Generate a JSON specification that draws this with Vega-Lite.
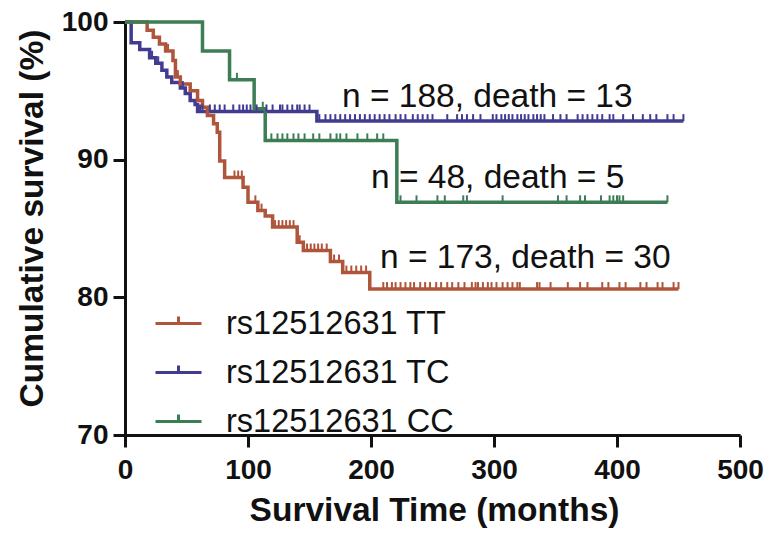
{
  "$schema": "https://vega.github.io/schema/vega-lite/v6.json",
  "width": 615,
  "height": 413,
  "autosize": {"type": "none"},
  "padding": {"left": 125, "top": 22, "right": 28, "bottom": 98},
  "background": "white",
  "config": {"view": {"stroke": null}, "font": "Liberation Sans"},
  "datasets": {
    "curve": [
      {"g": "TC", "t": 0, "s": 100}, {"g": "TC", "t": 5, "s": 98.5}, {"g": "TC", "t": 12, "s": 98.0}, {"g": "TC", "t": 20, "s": 97.4}, {"g": "TC", "t": 25, "s": 97.0}, {"g": "TC", "t": 30, "s": 96.5}, {"g": "TC", "t": 34, "s": 96.0}, {"g": "TC", "t": 38, "s": 95.6}, {"g": "TC", "t": 45, "s": 95.2}, {"g": "TC", "t": 49, "s": 94.8}, {"g": "TC", "t": 53, "s": 94.3}, {"g": "TC", "t": 57, "s": 94.0}, {"g": "TC", "t": 59, "s": 93.5}, {"g": "TC", "t": 156, "s": 92.8}, {"g": "TC", "t": 454, "s": 92.8},
      {"g": "TT", "t": 0, "s": 100}, {"g": "TT", "t": 18, "s": 99.4}, {"g": "TT", "t": 23, "s": 98.9}, {"g": "TT", "t": 28, "s": 98.4}, {"g": "TT", "t": 33, "s": 97.9}, {"g": "TT", "t": 39, "s": 97.2}, {"g": "TT", "t": 41, "s": 96.0}, {"g": "TT", "t": 45, "s": 95.5}, {"g": "TT", "t": 53, "s": 95.0}, {"g": "TT", "t": 59, "s": 94.3}, {"g": "TT", "t": 63, "s": 93.8}, {"g": "TT", "t": 67, "s": 93.2}, {"g": "TT", "t": 72, "s": 92.6}, {"g": "TT", "t": 75, "s": 92.0}, {"g": "TT", "t": 77, "s": 89.9}, {"g": "TT", "t": 81, "s": 88.7}, {"g": "TT", "t": 96, "s": 88.0}, {"g": "TT", "t": 100, "s": 86.9}, {"g": "TT", "t": 108, "s": 86.3}, {"g": "TT", "t": 114, "s": 85.9}, {"g": "TT", "t": 120, "s": 85.1}, {"g": "TT", "t": 140, "s": 84.0}, {"g": "TT", "t": 145, "s": 83.4}, {"g": "TT", "t": 167, "s": 82.6}, {"g": "TT", "t": 177, "s": 81.8}, {"g": "TT", "t": 199, "s": 80.6}, {"g": "TT", "t": 450, "s": 80.6},
      {"g": "CC", "t": 0, "s": 100}, {"g": "CC", "t": 63, "s": 97.9}, {"g": "CC", "t": 85, "s": 95.8}, {"g": "CC", "t": 105, "s": 93.7}, {"g": "CC", "t": 114, "s": 91.4}, {"g": "CC", "t": 221, "s": 86.9}, {"g": "CC", "t": 441, "s": 86.9}
    ],
    "censor": [
      {"g": "TC", "t": 22, "s": 97.4}, {"g": "TC", "t": 27, "s": 97.0}, {"g": "TC", "t": 47, "s": 95.2},
      {"g": "TC", "t": 61, "s": 93.5}, {"g": "TC", "t": 63, "s": 93.5}, {"g": "TC", "t": 69, "s": 93.5}, {"g": "TC", "t": 73, "s": 93.5}, {"g": "TC", "t": 77, "s": 93.5}, {"g": "TC", "t": 81, "s": 93.5}, {"g": "TC", "t": 88, "s": 93.5}, {"g": "TC", "t": 93, "s": 93.5}, {"g": "TC", "t": 96, "s": 93.5}, {"g": "TC", "t": 99, "s": 93.5}, {"g": "TC", "t": 102, "s": 93.5}, {"g": "TC", "t": 107, "s": 93.5}, {"g": "TC", "t": 115, "s": 93.5}, {"g": "TC", "t": 120, "s": 93.5}, {"g": "TC", "t": 126, "s": 93.5}, {"g": "TC", "t": 128, "s": 93.5}, {"g": "TC", "t": 132, "s": 93.5}, {"g": "TC", "t": 136, "s": 93.5}, {"g": "TC", "t": 140, "s": 93.5}, {"g": "TC", "t": 142, "s": 93.5}, {"g": "TC", "t": 146, "s": 93.5}, {"g": "TC", "t": 150, "s": 93.5},
      {"g": "TC", "t": 158, "s": 92.8}, {"g": "TC", "t": 163, "s": 92.8}, {"g": "TC", "t": 167, "s": 92.8}, {"g": "TC", "t": 171, "s": 92.8}, {"g": "TC", "t": 175, "s": 92.8}, {"g": "TC", "t": 179, "s": 92.8}, {"g": "TC", "t": 183, "s": 92.8}, {"g": "TC", "t": 187, "s": 92.8}, {"g": "TC", "t": 191, "s": 92.8}, {"g": "TC", "t": 195, "s": 92.8}, {"g": "TC", "t": 199, "s": 92.8}, {"g": "TC", "t": 203, "s": 92.8}, {"g": "TC", "t": 207, "s": 92.8}, {"g": "TC", "t": 211, "s": 92.8}, {"g": "TC", "t": 215, "s": 92.8}, {"g": "TC", "t": 220, "s": 92.8}, {"g": "TC", "t": 224, "s": 92.8}, {"g": "TC", "t": 228, "s": 92.8}, {"g": "TC", "t": 234, "s": 92.8}, {"g": "TC", "t": 238, "s": 92.8}, {"g": "TC", "t": 242, "s": 92.8}, {"g": "TC", "t": 246, "s": 92.8}, {"g": "TC", "t": 250, "s": 92.8}, {"g": "TC", "t": 262, "s": 92.8}, {"g": "TC", "t": 270, "s": 92.8}, {"g": "TC", "t": 274, "s": 92.8}, {"g": "TC", "t": 278, "s": 92.8}, {"g": "TC", "t": 283, "s": 92.8}, {"g": "TC", "t": 289, "s": 92.8}, {"g": "TC", "t": 299, "s": 92.8}, {"g": "TC", "t": 302, "s": 92.8}, {"g": "TC", "t": 306, "s": 92.8}, {"g": "TC", "t": 309, "s": 92.8}, {"g": "TC", "t": 312, "s": 92.8}, {"g": "TC", "t": 315, "s": 92.8}, {"g": "TC", "t": 319, "s": 92.8}, {"g": "TC", "t": 322, "s": 92.8}, {"g": "TC", "t": 325, "s": 92.8}, {"g": "TC", "t": 328, "s": 92.8}, {"g": "TC", "t": 332, "s": 92.8}, {"g": "TC", "t": 335, "s": 92.8}, {"g": "TC", "t": 338, "s": 92.8}, {"g": "TC", "t": 341, "s": 92.8}, {"g": "TC", "t": 348, "s": 92.8}, {"g": "TC", "t": 354, "s": 92.8}, {"g": "TC", "t": 359, "s": 92.8}, {"g": "TC", "t": 368, "s": 92.8}, {"g": "TC", "t": 372, "s": 92.8}, {"g": "TC", "t": 376, "s": 92.8}, {"g": "TC", "t": 380, "s": 92.8}, {"g": "TC", "t": 384, "s": 92.8}, {"g": "TC", "t": 388, "s": 92.8}, {"g": "TC", "t": 394, "s": 92.8}, {"g": "TC", "t": 397, "s": 92.8}, {"g": "TC", "t": 405, "s": 92.8}, {"g": "TC", "t": 413, "s": 92.8}, {"g": "TC", "t": 421, "s": 92.8}, {"g": "TC", "t": 427, "s": 92.8}, {"g": "TC", "t": 432, "s": 92.8}, {"g": "TC", "t": 441, "s": 92.8}, {"g": "TC", "t": 446, "s": 92.8}, {"g": "TC", "t": 454, "s": 92.8},
      {"g": "TT", "t": 35, "s": 97.9}, {"g": "TT", "t": 43, "s": 96.0}, {"g": "TT", "t": 89, "s": 88.7}, {"g": "TT", "t": 92, "s": 88.7}, {"g": "TT", "t": 95, "s": 88.7}, {"g": "TT", "t": 106, "s": 86.9}, {"g": "TT", "t": 111, "s": 86.3},
      {"g": "TT", "t": 122, "s": 85.1}, {"g": "TT", "t": 125, "s": 85.1}, {"g": "TT", "t": 128, "s": 85.1}, {"g": "TT", "t": 131, "s": 85.1}, {"g": "TT", "t": 134, "s": 85.1}, {"g": "TT", "t": 137, "s": 85.1}, {"g": "TT", "t": 142, "s": 84.0},
      {"g": "TT", "t": 148, "s": 83.4}, {"g": "TT", "t": 151, "s": 83.4}, {"g": "TT", "t": 154, "s": 83.4}, {"g": "TT", "t": 157, "s": 83.4}, {"g": "TT", "t": 160, "s": 83.4}, {"g": "TT", "t": 164, "s": 83.4}, {"g": "TT", "t": 170, "s": 82.6}, {"g": "TT", "t": 174, "s": 82.6},
      {"g": "TT", "t": 180, "s": 81.8}, {"g": "TT", "t": 184, "s": 81.8}, {"g": "TT", "t": 188, "s": 81.8}, {"g": "TT", "t": 192, "s": 81.8}, {"g": "TT", "t": 196, "s": 81.8},
      {"g": "TT", "t": 210, "s": 80.6}, {"g": "TT", "t": 213, "s": 80.6}, {"g": "TT", "t": 217, "s": 80.6}, {"g": "TT", "t": 220, "s": 80.6}, {"g": "TT", "t": 224, "s": 80.6}, {"g": "TT", "t": 228, "s": 80.6}, {"g": "TT", "t": 232, "s": 80.6}, {"g": "TT", "t": 235, "s": 80.6}, {"g": "TT", "t": 240, "s": 80.6}, {"g": "TT", "t": 244, "s": 80.6}, {"g": "TT", "t": 248, "s": 80.6}, {"g": "TT", "t": 253, "s": 80.6}, {"g": "TT", "t": 257, "s": 80.6}, {"g": "TT", "t": 262, "s": 80.6}, {"g": "TT", "t": 266, "s": 80.6}, {"g": "TT", "t": 271, "s": 80.6}, {"g": "TT", "t": 276, "s": 80.6}, {"g": "TT", "t": 282, "s": 80.6}, {"g": "TT", "t": 285, "s": 80.6}, {"g": "TT", "t": 287, "s": 80.6}, {"g": "TT", "t": 291, "s": 80.6}, {"g": "TT", "t": 295, "s": 80.6}, {"g": "TT", "t": 298, "s": 80.6}, {"g": "TT", "t": 302, "s": 80.6}, {"g": "TT", "t": 307, "s": 80.6}, {"g": "TT", "t": 311, "s": 80.6}, {"g": "TT", "t": 315, "s": 80.6}, {"g": "TT", "t": 319, "s": 80.6}, {"g": "TT", "t": 321, "s": 80.6}, {"g": "TT", "t": 335, "s": 80.6}, {"g": "TT", "t": 337, "s": 80.6}, {"g": "TT", "t": 346, "s": 80.6}, {"g": "TT", "t": 360, "s": 80.6}, {"g": "TT", "t": 370, "s": 80.6}, {"g": "TT", "t": 376, "s": 80.6}, {"g": "TT", "t": 388, "s": 80.6}, {"g": "TT", "t": 393, "s": 80.6}, {"g": "TT", "t": 402, "s": 80.6}, {"g": "TT", "t": 407, "s": 80.6}, {"g": "TT", "t": 419, "s": 80.6}, {"g": "TT", "t": 424, "s": 80.6}, {"g": "TT", "t": 433, "s": 80.6}, {"g": "TT", "t": 437, "s": 80.6}, {"g": "TT", "t": 446, "s": 80.6}, {"g": "TT", "t": 450, "s": 80.6},
      {"g": "CC", "t": 91, "s": 95.8}, {"g": "CC", "t": 112, "s": 93.7},
      {"g": "CC", "t": 119, "s": 91.4}, {"g": "CC", "t": 124, "s": 91.4}, {"g": "CC", "t": 128, "s": 91.4}, {"g": "CC", "t": 132, "s": 91.4}, {"g": "CC", "t": 137, "s": 91.4}, {"g": "CC", "t": 141, "s": 91.4}, {"g": "CC", "t": 146, "s": 91.4}, {"g": "CC", "t": 153, "s": 91.4}, {"g": "CC", "t": 158, "s": 91.4}, {"g": "CC", "t": 167, "s": 91.4}, {"g": "CC", "t": 172, "s": 91.4}, {"g": "CC", "t": 175, "s": 91.4}, {"g": "CC", "t": 180, "s": 91.4}, {"g": "CC", "t": 189, "s": 91.4}, {"g": "CC", "t": 197, "s": 91.4}, {"g": "CC", "t": 205, "s": 91.4}, {"g": "CC", "t": 210, "s": 91.4},
      {"g": "CC", "t": 224, "s": 86.9}, {"g": "CC", "t": 237, "s": 86.9}, {"g": "CC", "t": 254, "s": 86.9}, {"g": "CC", "t": 260, "s": 86.9}, {"g": "CC", "t": 275, "s": 86.9}, {"g": "CC", "t": 278, "s": 86.9}, {"g": "CC", "t": 307, "s": 86.9}, {"g": "CC", "t": 352, "s": 86.9}, {"g": "CC", "t": 359, "s": 86.9}, {"g": "CC", "t": 370, "s": 86.9}, {"g": "CC", "t": 374, "s": 86.9}, {"g": "CC", "t": 387, "s": 86.9}, {"g": "CC", "t": 394, "s": 86.9}, {"g": "CC", "t": 397, "s": 86.9}, {"g": "CC", "t": 400, "s": 86.9}, {"g": "CC", "t": 402, "s": 86.9}, {"g": "CC", "t": 405, "s": 86.9}, {"g": "CC", "t": 441, "s": 86.9}
    ],
    "notes": [
      {"t": 176.4, "s": 93.83, "txt": "n = 188, death = 13"},
      {"t": 200, "s": 87.94, "txt": "n = 48, death = 5"},
      {"t": 207.3, "s": 82.14, "txt": "n = 173, death = 30"}
    ]
  },
  "layer": [
    {
      "data": {"name": "curve"},
      "mark": {"type": "line", "interpolate": "step-after", "strokeWidth": 3.5, "clip": false},
      "encoding": {
        "x": {
          "field": "t", "type": "quantitative",
          "scale": {"domain": [0, 500], "nice": false},
          "axis": {
            "values": [0, 100, 200, 300, 400, 500], "grid": false,
            "title": "Survival Time (months)",
            "domainColor": "#111111", "domainWidth": 3, "tickColor": "#111111", "tickWidth": 3, "tickSize": 12,
            "labelFont": "Liberation Sans", "labelFontWeight": "bold", "labelFontSize": 28, "labelColor": "#111111", "labelPadding": 9,
            "labelFlush": false, "labelOverlap": false,
            "titleFont": "Liberation Sans", "titleFontWeight": "bold", "titleFontSize": 33.5, "titleColor": "#111111",
            "titleX": 309, "titleY": 85, "titleBaseline": "alphabetic", "titleAlign": "center"
          }
        },
        "y": {
          "field": "s", "type": "quantitative",
          "scale": {"domain": [70, 100], "nice": false, "zero": false},
          "axis": {
            "values": [70, 80, 90, 100], "grid": false,
            "title": "Cumulative survival (%)",
            "domainColor": "#111111", "domainWidth": 3, "tickColor": "#111111", "tickWidth": 3, "tickSize": 12,
            "labelFont": "Liberation Sans", "labelFontWeight": "bold", "labelFontSize": 28, "labelColor": "#111111", "labelPadding": 5,
            "labelFlush": false, "labelOverlap": false,
            "titleFont": "Liberation Sans", "titleFontWeight": "bold", "titleFontSize": 33.5, "titleColor": "#111111",
            "titleX": -83, "titleY": 196, "titleAngle": 270, "titleBaseline": "alphabetic", "titleAlign": "center"
          }
        },
        "color": {
          "field": "g", "type": "nominal",
          "scale": {"domain": ["TT", "TC", "CC"], "range": ["#AF553C", "#413C91", "#3C7D55"]},
          "legend": {
            "orient": "none", "legendX": 29, "legendY": 277, "title": null, "padding": 0,
            "symbolType": "M-1,0H1M0,0V-0.3", "symbolSize": 2116, "symbolStrokeWidth": 3,
            "labelFont": "Liberation Sans", "labelFontSize": 32.5, "labelColor": "#111111", "labelOffset": 23, "labelLimit": 0,
            "rowPadding": 8, "labelExpr": "'rs12512631 ' + datum.label"
          }
        }
      }
    },
    {
      "data": {"name": "censor"},
      "mark": {"type": "point", "shape": "M0,0V-1", "filled": false, "strokeWidth": 2, "size": 196, "opacity": 1, "clip": false},
      "encoding": {
        "x": {"field": "t", "type": "quantitative"},
        "y": {"field": "s", "type": "quantitative"},
        "color": {"field": "g", "type": "nominal", "legend": null}
      }
    },
    {
      "data": {"name": "notes"},
      "mark": {"type": "text", "align": "left", "baseline": "alphabetic", "font": "Liberation Sans", "fontSize": 33.5, "color": "#111111"},
      "encoding": {
        "x": {"field": "t", "type": "quantitative"},
        "y": {"field": "s", "type": "quantitative"},
        "text": {"field": "txt", "type": "nominal"}
      }
    }
  ]
}
